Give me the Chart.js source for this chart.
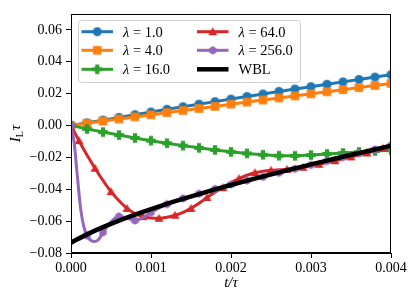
<!DOCTYPE html>
<html>
<head>
<meta charset="utf-8">
<script src="https://cdn.jsdelivr.net/npm/chart.js@4/dist/chart.umd.min.js"></script>
<style>
    html, body { margin: 0; padding: 0; background: #fff; }
    canvas { display: block; }
</style>
</head>
<body>
<canvas id="chart" width="416" height="303"></canvas>
<script>
// time grids (t/tau)
const tCoarse = [0, 0.0002, 0.0004, 0.0006, 0.0008, 0.001, 0.0012, 0.0014, 0.0016, 0.0018, 0.002,
                 0.0022, 0.0024, 0.0026, 0.0028, 0.003, 0.0032, 0.0034, 0.0036, 0.0038, 0.004];
const tFine = [0, 0.0001, 0.0002, 0.0003, 0.0004, 0.0005, 0.0006, 0.0007, 0.0008, 0.0009, 0.001,
               0.0011, 0.0012, 0.0013, 0.0014, 0.0015, 0.0016, 0.0017, 0.0018, 0.0019, 0.002,
               0.0021, 0.0022, 0.0023, 0.0024, 0.0025, 0.0026, 0.0027, 0.0028, 0.0029, 0.003,
               0.0031, 0.0032, 0.0033, 0.0034, 0.0035, 0.0036, 0.0037, 0.0038, 0.0039, 0.004];
const tPurple = [0, 0.00004, 0.00008, 0.00012, 0.00016, 0.0002, 0.00025, 0.0003, 0.00035, 0.0004,
                 0.0005, 0.0006, 0.0007, 0.0008, 0.0009, 0.001, 0.0012, 0.0014, 0.0016, 0.0018, 0.002,
                 0.0022, 0.0024, 0.0026, 0.0028, 0.003, 0.0032, 0.0034, 0.0036, 0.0038, 0.004];

// I_L * tau
const lambda1 = [0, 0.0017, 0.0034, 0.0051, 0.0068, 0.0085, 0.0102, 0.0118, 0.0134, 0.0150, 0.0166,
                 0.0182, 0.0198, 0.0214, 0.0229, 0.0244, 0.0259, 0.0274, 0.0289, 0.0304, 0.0319];
const lambda4 = [0, 0.0014, 0.0028, 0.0041, 0.0054, 0.0067, 0.0081, 0.0094, 0.0107, 0.0120, 0.0134,
                 0.0147, 0.0160, 0.0173, 0.0186, 0.0199, 0.0212, 0.0225, 0.0238, 0.0251, 0.0264];
const lambda16 = [0, -0.0021, -0.0041, -0.0060, -0.0078, -0.0095, -0.0111, -0.0126, -0.0140, -0.0153, -0.0165,
                  -0.0175, -0.0183, -0.0189, -0.0190, -0.0185, -0.0178, -0.0172, -0.0166, -0.0160, -0.0155];
const lambda64 = [0, -0.0095, -0.0185, -0.0268, -0.0345, -0.0415, -0.0472, -0.0520, -0.0553, -0.0572, -0.0580,
                  -0.0582, -0.0576, -0.0563, -0.0545, -0.0520, -0.0488, -0.0452, -0.0418, -0.0390, -0.0358,
                  -0.0333, -0.0312, -0.0296, -0.0287, -0.0281, -0.0278, -0.0275, -0.0270, -0.0262, -0.0253,
                  -0.0243, -0.0232, -0.0221, -0.0209, -0.0197, -0.0185, -0.0172, -0.0158, -0.0142, -0.0126];
const lambda256 = [0, -0.011, -0.032, -0.052, -0.0635, -0.0690, -0.0722, -0.0728, -0.0712, -0.0670,
                   -0.0605, -0.0570, -0.0582, -0.0596, -0.0578, -0.0545, -0.0493, -0.0457, -0.0428, -0.0398, -0.0370,
                   -0.0345, -0.0322, -0.0296, -0.0271, -0.0247, -0.0222, -0.0198, -0.0174, -0.0150, -0.0124];
const wbl = [-0.0735, -0.0683, -0.0638, -0.0597, -0.0559, -0.0524, -0.0491, -0.0460, -0.0430, -0.0401, -0.0373,
             -0.0346, -0.0320, -0.0294, -0.0269, -0.0244, -0.0220, -0.0196, -0.0173, -0.0150, -0.0127];

const xTicks = [0, 0.001, 0.002, 0.003, 0.004];
const xTickLabels = ['0.000', '0.001', '0.002', '0.003', '0.004'];
const yTicks = [-0.08, -0.06, -0.04, -0.02, 0, 0.02, 0.04, 0.06];
const yTickLabels = ['\u22120.08', '\u22120.06', '\u22120.04', '\u22120.02', '0.00', '0.02', '0.04', '0.06'];

const SERIF = '"Liberation Serif", "DejaVu Serif", serif';

// matplotlib-like marker glyphs
function marker(shape, color, size) {
    const c = document.createElement('canvas');
    const n = Math.ceil(size) + 2;
    c.width = n; c.height = n;
    const g = c.getContext('2d');
    const m = n / 2, r = size / 2;
    g.fillStyle = color;
    g.beginPath();
    if (shape === 'circle') {
        g.arc(m, m, r, 0, Math.PI * 2);
    } else if (shape === 'square') {
        g.rect(m - r, m - r, size, size);
    } else if (shape === 'plus') {
        const w = size * 0.44 / 2;
        g.rect(m - w, m - r, 2 * w, size);
        g.rect(m - r, m - w, size, 2 * w);
    } else if (shape === 'triangle') {
        g.moveTo(m, m - r);
        g.lineTo(m + r, m + r * 0.8);
        g.lineTo(m - r, m + r * 0.8);
    } else if (shape === 'hexagon') {
        for (let i = 0; i < 6; i++) {
            const a = Math.PI / 2 + i * Math.PI / 3;
            const px = m + r * Math.cos(a), py = m - r * Math.sin(a);
            i ? g.lineTo(px, py) : g.moveTo(px, py);
        }
    }
    g.closePath();
    g.fill();
    return c;
}

function onGrid(x, offset) {
    const k = (x - offset) / 0.0002;
    return Math.abs(k - Math.round(k)) < 1e-6;
}

const pts = (xs, ys) => xs.map((x, i) => ({ x, y: ys[i] }));

const series = [
    { label: 'λ = 1.0',   color: '#1f77b4', shape: 'circle',   size: 9,   xs: tCoarse, ys: lambda1,   offset: 0,      smooth: false, order: 6 },
    { label: 'λ = 4.0',   color: '#ff7f0e', shape: 'square',   size: 8.6, xs: tCoarse, ys: lambda4,   offset: 0,      smooth: false, order: 5 },
    { label: 'λ = 16.0',  color: '#2ca02c', shape: 'plus',     size: 9.5, xs: tCoarse, ys: lambda16,  offset: 0,      smooth: false, order: 4 },
    { label: 'λ = 64.0',  color: '#d62728', shape: 'triangle', size: 9,   xs: tFine,   ys: lambda64,  offset: 0.0001, smooth: true,  order: 3 },
    { label: 'λ = 256.0', color: '#9467bd', shape: 'hexagon',  size: 8.5, xs: tPurple, ys: lambda256, offset: 0,      smooth: true,  order: 2 },
    { label: 'WBL',       color: '#000000', shape: null,       size: 0,   xs: tCoarse, ys: wbl,       offset: 0,      smooth: true,  order: 1 },
];
series.forEach(s => { s.img = s.shape ? marker(s.shape, s.color, s.size) : null; });

const datasets = series.map(s => ({
    label: s.label,
    data: pts(s.xs, s.ys),
    borderColor: s.color,
    backgroundColor: s.color,
    borderWidth: s.shape ? 3 : 4.5,
    pointStyle: s.img || 'circle',
    pointRadius: ctx => (s.img && onGrid(ctx.raw.x, s.offset)) ? 5 : 0,
    cubicInterpolationMode: s.smooth ? 'monotone' : 'default',
    tension: 0,
    clip: 0,
    order: s.order,
}));

const decor = {
    id: 'decor',
    afterDraw(chart) {
        const { ctx, chartArea: a } = chart;
        ctx.save();

        // full box
        ctx.strokeStyle = '#000';
        ctx.lineWidth = 1;
        ctx.strokeRect(a.left + 0.5, a.top + 0.5, a.right - a.left - 1, a.bottom - a.top - 1);

        // x title: t/τ
        ctx.fillStyle = '#000';
        ctx.textBaseline = 'alphabetic';
        ctx.textAlign = 'center';
        ctx.font = `italic 15px ${SERIF}`;
        ctx.fillText('t/τ', (a.left + a.right) / 2, 287);

        // y title: I_L τ
        ctx.translate(15, (a.top + a.bottom) / 2);
        ctx.rotate(-Math.PI / 2);
        ctx.textAlign = 'left';
        ctx.font = `italic 15px ${SERIF}`;
        const wI = ctx.measureText('I').width;
        const wT = ctx.measureText('τ').width;
        ctx.font = `10px ${SERIF}`;
        const wL = ctx.measureText('L').width;
        let x0 = -(wI + wL + wT + 1) / 2;
        ctx.font = `italic 15px ${SERIF}`;
        ctx.fillText('I', x0, 5);
        ctx.font = `10px ${SERIF}`;
        ctx.fillText('L', x0 + wI, 8);
        ctx.font = `italic 15px ${SERIF}`;
        ctx.fillText('τ', x0 + wI + wL + 1, 5);
        ctx.setTransform(1, 0, 0, 1, 0, 0);

        // legend
        const bx = 78.5, by = 20.5, bw = 222, bh = 62, r = 3;
        ctx.beginPath();
        ctx.moveTo(bx + r, by);
        ctx.arcTo(bx + bw, by, bx + bw, by + bh, r);
        ctx.arcTo(bx + bw, by + bh, bx, by + bh, r);
        ctx.arcTo(bx, by + bh, bx, by, r);
        ctx.arcTo(bx, by, bx + bw, by, r);
        ctx.closePath();
        ctx.fillStyle = 'rgba(255,255,255,0.8)';
        ctx.fill();
        ctx.strokeStyle = '#d0d0d0';
        ctx.stroke();

        const cols = [{ x0: 81.5, x1: 113, tx: 123 }, { x0: 197, x1: 228.5, tx: 238.5 }];
        const rows = [31.7, 50.3, 69.3];
        series.forEach((s, i) => {
            const c = cols[Math.floor(i / 3)], y = rows[i % 3];
            ctx.strokeStyle = s.color;
            ctx.lineWidth = s.img ? 3 : 4.5;
            ctx.beginPath();
            ctx.moveTo(c.x0, y);
            ctx.lineTo(c.x1, y);
            ctx.stroke();
            if (s.img) ctx.drawImage(s.img, (c.x0 + c.x1) / 2 - s.img.width / 2, y - s.img.height / 2);

            ctx.fillStyle = '#000';
            ctx.textBaseline = 'alphabetic';
            ctx.textAlign = 'left';
            let tx = c.tx;
            if (s.label.startsWith('λ')) {
                ctx.font = `italic 14.5px ${SERIF}`;
                ctx.fillText('λ', tx, y + 5);
                tx += ctx.measureText('λ').width;
                ctx.font = `14.5px ${SERIF}`;
                ctx.fillText(s.label.slice(1), tx, y + 5);
            } else {
                ctx.font = `14.5px ${SERIF}`;
                ctx.fillText(s.label, tx, y + 5);
            }
        });
        ctx.restore();
    },
};

const tickFont = { family: SERIF, size: 14 };

new Chart(document.getElementById('chart'), {
    type: 'line',
    data: { datasets },
    options: {
        responsive: false,
        animation: false,
        events: [],
        layout: { padding: { left: 0, top: 14, right: 25, bottom: 0 } },
        plugins: { legend: { display: false }, tooltip: { enabled: false } },
        scales: {
            x: {
                type: 'linear',
                min: 0,
                max: 0.004,
                afterBuildTicks: sc => { sc.ticks = xTicks.map(v => ({ value: v })); },
                afterFit: sc => { sc.height = 50; },
                ticks: {
                    font: tickFont,
                    color: '#000',
                    padding: 2,
                    maxRotation: 0,
                    autoSkip: false,
                    callback: (v, i) => xTickLabels[i],
                },
                grid: { drawOnChartArea: false, drawTicks: true, tickLength: 5, tickWidth: 1, tickColor: '#000' },
                border: { display: true, color: '#000', width: 1 },
            },
            y: {
                type: 'linear',
                min: -0.08,
                max: 0.07,
                afterBuildTicks: sc => { sc.ticks = yTicks.map(v => ({ value: v })); },
                afterFit: sc => { sc.width = 71; },
                ticks: {
                    font: tickFont,
                    color: '#000',
                    padding: 4,
                    autoSkip: false,
                    callback: (v, i) => yTickLabels[i],
                },
                grid: { drawOnChartArea: false, drawTicks: true, tickLength: 5, tickWidth: 1, tickColor: '#000' },
                border: { display: true, color: '#000', width: 1 },
            },
        },
    },
    plugins: [decor],
});
</script>
</body>
</html>
